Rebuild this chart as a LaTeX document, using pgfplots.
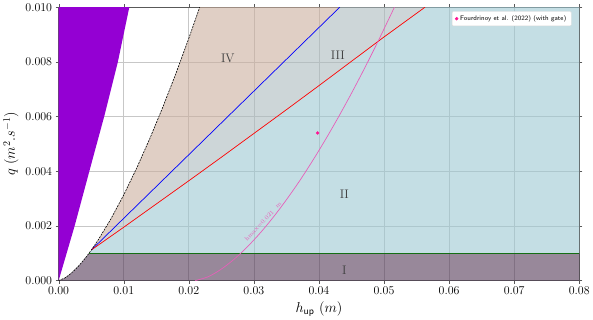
\documentclass[border=0pt]{standalone}
\usepackage{pgfplots}
\pgfplotsset{compat=1.18}
\definecolor{cI}{RGB}{83,57,87}
\definecolor{cII}{RGB}{157,200,210}
\definecolor{cIII}{RGB}{172,187,190}
\definecolor{cIV}{RGB}{203,175,158}
\definecolor{cviolet}{RGB}{148,0,211}
\definecolor{cpink}{RGB}{230,95,185}
\definecolor{cdot}{RGB}{255,20,147}
\definecolor{cgreen}{RGB}{20,110,20}
\begin{document}
\begin{tikzpicture}
\begin{axis}[
  scale only axis, width=521.8pt, height=274pt,
  xmin=0, xmax=0.08, ymin=0, ymax=0.01,
  xtick={0,0.01,0.02,0.03,0.04,0.05,0.06,0.07,0.08},
  ytick={0,0.002,0.004,0.006,0.008,0.010},
  scaled x ticks=false, scaled y ticks=false,
  xticklabel style={/pgf/number format/.cd, fixed, fixed zerofill, precision=2},
  yticklabel style={/pgf/number format/.cd, fixed, fixed zerofill, precision=3},
  grid=major, grid style={color=black!22, line width=0.6pt},
  axis line style={color=black!65},
  tick style={color=black!65},
  tick align=outside, major tick length=3pt,
  ticklabel style={font=\fontsize{11.5}{13}\selectfont},
  label style={font=\fontsize{14}{16}\selectfont},
  xlabel={$h_{\mathsf{up}}\ (m)$}, ylabel={$q\ (m^2.s^{-1})$},
  legend style={at={(0.985,0.985)}, anchor=north east, font=\sffamily\fontsize{6.6}{7.5}\selectfont, draw=black!15, rounded corners=1pt, fill=white},
  legend cell align=left,
]
% Region I
\addplot[fill=cI, fill opacity=0.6, draw=none, forget plot] coordinates {
 (0,0) (0.001,0.000099) (0.002,0.000280) (0.003,0.000515) (0.004,0.000792) (0.00467,0.001) (0.08,0.001) (0.08,0)} -- cycle;
% Region II
\addplot[fill=cII, fill opacity=0.6, draw=none, forget plot] coordinates {
 (0.00467,0.001) (0.00505,0.001124) (0.010,0.00195) (0.015,0.00280) (0.020,0.00365) (0.025,0.00451) (0.030,0.00538) (0.035,0.00625) (0.040,0.00713) (0.045,0.00802) (0.050,0.00891) (0.0563,0.0100) (0.08,0.01) (0.08,0.001)} -- cycle;
% Region III
\addplot[fill=cIII, fill opacity=0.6, draw=none, forget plot] coordinates {
 (0.00505,0.001124) (0.0432,0.01) (0.0563,0.0100) (0.050,0.00891) (0.045,0.00802) (0.040,0.00713) (0.035,0.00625) (0.030,0.00538) (0.025,0.00451) (0.020,0.00365) (0.015,0.00280) (0.010,0.00195)} -- cycle;
% Region IV
\addplot[fill=cIV, fill opacity=0.6, draw=none, forget plot] coordinates {
 (0.00505,0.001124) (0.006,0.001456) (0.008,0.002241) (0.010,0.003132) (0.012,0.004117) (0.014,0.005188) (0.016,0.006339) (0.018,0.007563) (0.020,0.008859) (0.02168,0.01) (0.0432,0.01)} -- cycle;
% violet region
\addplot[fill=cviolet, draw=none, forget plot] coordinates {
 (0,0) (0.00246,0.002) (0.0054,0.0046) (0.0070,0.006) (0.0091,0.008) (0.01086,0.01) (0,0.01)} -- cycle;
% green line
\addplot[cgreen, line width=0.8pt, forget plot] coordinates {(0.00467,0.001) (0.08,0.001)};
% blue line
\addplot[blue, line width=0.7pt, forget plot] coordinates {(0.00505,0.001124) (0.0432,0.01)};
% red line
\addplot[red, line width=0.7pt, forget plot] coordinates {
 (0.00505,0.001124) (0.010,0.00195) (0.015,0.00280) (0.020,0.00365) (0.025,0.00451) (0.030,0.00538) (0.035,0.00625) (0.040,0.00713) (0.045,0.00802) (0.050,0.00891) (0.0563,0.0100)};
% critical curve
\addplot[black, line width=0.6pt, dash pattern=on 2pt off 1pt, forget plot] coordinates {
 (0,0) (0.001,0.000099) (0.002,0.000280) (0.003,0.000515) (0.004,0.000792) (0.00467,0.001) (0.00505,0.001124) (0.006,0.001456) (0.008,0.002241) (0.010,0.003132) (0.012,0.004117) (0.014,0.005188) (0.016,0.006339) (0.018,0.007563) (0.020,0.008859) (0.02168,0.01)};
% hmax curve
\addplot[cpink, line width=0.7pt, smooth, forget plot] coordinates {
 (0.021,0) (0.023,0.000142) (0.025,0.000419) (0.027,0.000788) (0.029,0.001234) (0.031,0.001748) (0.033,0.002323) (0.035,0.002956) (0.037,0.003637) (0.039,0.004374) (0.041,0.005156) (0.043,0.005983) (0.045,0.006851) (0.047,0.007762) (0.049,0.008712) (0.051,0.009701) (0.0516,0.0100)};
% data point
\addplot[only marks, mark=*, mark size=1.5pt, color=cdot] coordinates {(0.0398,0.0054)};
\addlegendentry{Fourdrinoy et al. (2022) (with gate)}
% labels
\node[font=\fontsize{12.5}{14}\selectfont, text=black!75] at (axis cs:0.0439,0.00036) {I};
\node[font=\fontsize{12.5}{14}\selectfont, text=black!75] at (axis cs:0.0439,0.00314) {II};
\node[font=\fontsize{12.5}{14}\selectfont, text=black!75] at (axis cs:0.0429,0.00825) {III};
\node[font=\fontsize{12.5}{14}\selectfont, text=black!75] at (axis cs:0.0260,0.00814) {IV};
\node[font=\fontsize{6}{7}\selectfont, text=cpink, rotate=47, inner sep=0pt] at (axis cs:0.0314,0.00215) {hmax=0.021\ \ m};
\end{axis}
\path (current axis.south west) ++(-57.5pt,-35pt) rectangle ([shift={(13.7pt,7pt)}]current axis.north east);
\end{tikzpicture}
\end{document}
